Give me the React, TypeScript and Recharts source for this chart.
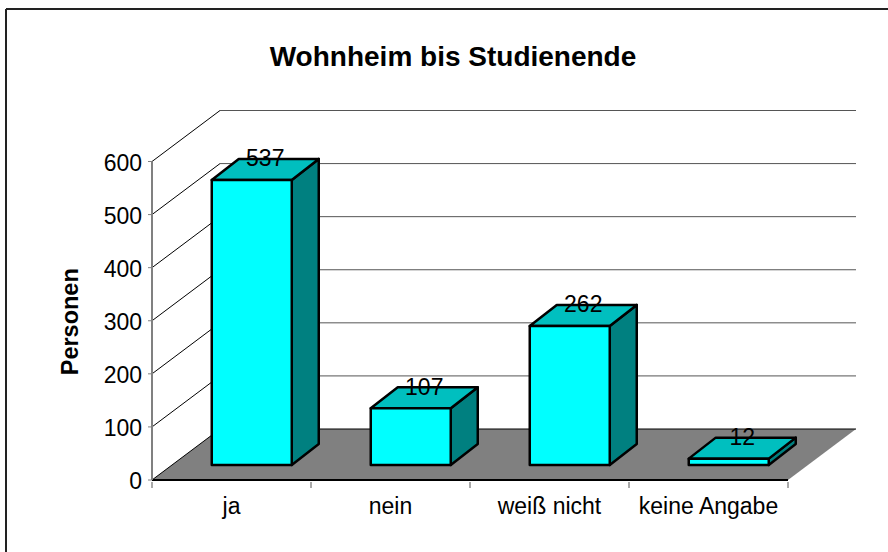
import { Bar, BarChart, CartesianGrid, LabelList, XAxis, YAxis } from 'recharts'

const categories = ['ja', 'nein', 'weiß nicht', 'keine Angabe']
const persons = [537, 107, 262, 12]
const yTicks = [0, 100, 200, 300, 400, 500, 600]

const rows = categories.map((name, i) => ({ name, value: persons[i] }))

const FONT = '"Liberation Sans", Arial, sans-serif'
const WIDTH = 888
const HEIGHT = 552
const BAND = 159

// how far the walls and the bars reach back in the fake 3d
const WALL_DX = 68
const WALL_DY = -51
const BAR_SHIFT_X = 20
const BAR_SHIFT_Y = -15
const BAR_DX = 27
const BAR_DY = -21

function WallLine(props: any) {
  const { x1, x2, y1, index } = props
  const backY = y1 + WALL_DY
  const isFloor = index === 0 || y1 > 470
  return (
    <g key={`wall-${y1}`}>
      {isFloor && (
        <polygon
          points={`${x1},${y1} ${x1 + WALL_DX},${backY} ${x2 + WALL_DX},${backY} ${x2},${y1}`}
          fill="#808080"
        />
      )}
      <line x1={x1} y1={y1} x2={x1 + WALL_DX} y2={backY} stroke="#000" strokeWidth={1} />
      <line x1={x1 + WALL_DX} y1={backY} x2={x2 + WALL_DX} y2={backY} stroke={isFloor ? '#000' : '#555'} strokeWidth={1} />
    </g>
  )
}

function Box3D(props: any) {
  const { x, y, width, height } = props
  const left = x + BAR_SHIFT_X
  const right = left + width
  const top = y + BAR_SHIFT_Y
  const bottom = top + height
  const line = { stroke: '#000', strokeWidth: 2.5, strokeLinejoin: 'round' as const }
  return (
    <g>
      <polygon
        points={`${right},${top} ${right + BAR_DX},${top + BAR_DY} ${right + BAR_DX},${bottom + BAR_DY} ${right},${bottom}`}
        fill="#008080"
        {...line}
      />
      <polygon
        points={`${left},${top} ${left + BAR_DX},${top + BAR_DY} ${right + BAR_DX},${top + BAR_DY} ${right},${top}`}
        fill="#00BFBF"
        {...line}
      />
      <rect x={left} y={top} width={width} height={height} fill="#00FFFF" {...line} />
    </g>
  )
}

function ValueLabel(props: any) {
  const { x, y, width, value } = props
  return (
    <text
      x={x + BAR_SHIFT_X + width / 2 + 13.5}
      y={y + BAR_SHIFT_Y - 13.5}
      textAnchor="middle"
      fontSize={23}
      fontFamily={FONT}
      fill="#000"
    >
      {value}
    </text>
  )
}

// ticks sit between the categories, labels in the middle of them
function CategoryTick(props: any) {
  const { x, y, payload, index } = props
  const axisY = y - 6
  return (
    <g>
      <line x1={x - BAND / 2} y1={axisY} x2={x - BAND / 2} y2={axisY + 6} stroke="#555" />
      {index === categories.length - 1 && (
        <line x1={x + BAND / 2} y1={axisY} x2={x + BAND / 2} y2={axisY + 6} stroke="#555" />
      )}
      <text x={x} y={axisY + 32} textAnchor="middle" fontSize={23} fontFamily={FONT} fill="#000">
        {payload.value}
      </text>
    </g>
  )
}

export default function App() {
  return (
    <div style={{ position: 'absolute', left: 0, top: 0, width: WIDTH, height: HEIGHT, overflow: 'hidden', background: '#fff' }}>
      <BarChart
        width={WIDTH}
        height={HEIGHT}
        data={rows}
        margin={{ top: 161.5, right: 100, bottom: 0, left: 92 }}
        barCategoryGap="25%"
      >
        <line x1={6} y1={9} x2={WIDTH} y2={9} stroke="#222" strokeWidth={2} />
        <line x1={6} y1={9} x2={6} y2={HEIGHT} stroke="#222" strokeWidth={2} />
        <text x={453} y={66} textAnchor="middle" fontSize={28} fontWeight="bold" fontFamily={FONT} fill="#000">
          Wohnheim bis Studienende
        </text>
        <CartesianGrid vertical={false} horizontal={(p: any) => <WallLine {...p} />} />
        <XAxis
          dataKey="name"
          height={72}
          interval={0}
          axisLine={{ stroke: '#000', strokeWidth: 2 }}
          tickLine={false}
          tick={<CategoryTick />}
        />
        <YAxis
          width={60}
          domain={[0, 600]}
          ticks={yTicks}
          interval={0}
          axisLine={{ stroke: '#808080', strokeWidth: 2 }}
          tickLine={{ stroke: '#808080' }}
          tickSize={4}
          tickMargin={6}
          tick={{ fontSize: 23, fontFamily: FONT, fill: '#000', dy: 1 }}
          label={{
            value: 'Personen',
            angle: -90,
            position: 'insideLeft',
            offset: -22,
            dy: 1,
            style: { fontSize: 23.5, fontWeight: 'bold', fontFamily: FONT, fill: '#000', textAnchor: 'middle' },
          }}
        />
        <Bar dataKey="value" shape={<Box3D />} isAnimationActive={false}>
          <LabelList dataKey="value" content={<ValueLabel />} />
        </Bar>
      </BarChart>
    </div>
  )
}
